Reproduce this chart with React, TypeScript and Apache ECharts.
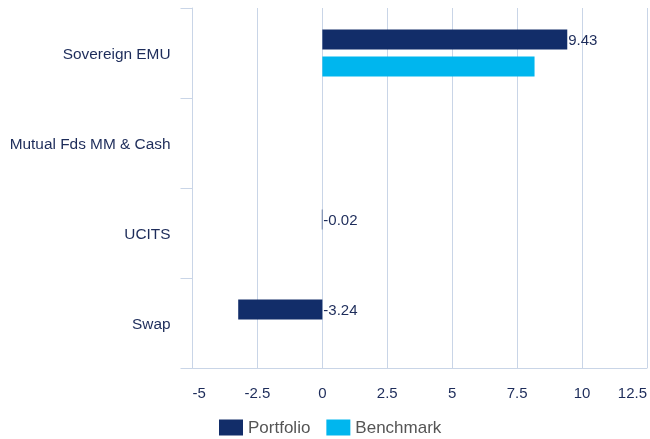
import React, { useEffect, useRef } from "react";
import * as echarts from "echarts";

const categories = ["Sovereign EMU", "Mutual Fds MM & Cash", "UCITS", "Swap"];
const portfolioValues: (number | null)[] = [9.43, null, -0.02, -3.24];
const benchmarkValues: (number | null)[] = [8.17, null, null, null];
const xMin = -5;
const xMax = 12.5;
const xInterval = 2.5;

const NAVY = "#122d69";
const CYAN = "#00b6ee";
const TEXT = "#1d2c5a";
const LINE = "#c9d5e7";
const FONT = "'Liberation Sans', Arial, Helvetica, sans-serif";

export default function App() {
  const ref = useRef<HTMLDivElement>(null);
  useEffect(() => {
    if (!ref.current) return;
    const chart = echarts.init(ref.current, null, { renderer: "svg" });
    chart.setOption({
      animation: false,
      textStyle: { fontFamily: FONT },
      grid: { left: 192.5, right: 2, top: 8, bottom: 71, containLabel: false },
      legend: {
        left: 214,
        top: 414,
        icon: "rect",
        itemWidth: 24,
        itemHeight: 16,
        itemGap: 16,
        textStyle: { color: "#555555", fontSize: 17, fontFamily: FONT },
        data: ["Portfolio", "Benchmark"],
      },
      xAxis: {
        type: "value",
        min: xMin,
        max: xMax,
        interval: xInterval,
        axisLine: { show: true, lineStyle: { color: LINE, width: 1 } },
        axisTick: { show: false },
        splitLine: { show: true, lineStyle: { color: LINE, width: 1 } },
        axisLabel: {
          color: TEXT,
          fontSize: 15,
          fontFamily: FONT,
          margin: 17,
          alignMinLabel: "left",
          alignMaxLabel: "right",
          formatter: (v: number) => String(v),
        },
      },
      yAxis: {
        type: "category",
        inverse: true,
        data: categories,
        axisLine: { show: true, onZero: false, lineStyle: { color: LINE, width: 1 } },
        axisTick: { show: true, length: 12, lineStyle: { color: LINE, width: 1 } },
        axisLabel: { color: TEXT, fontSize: 15.4, fontFamily: FONT, margin: 22 },
        splitLine: { show: false },
      },
      series: [
        {
          name: "Portfolio",
          type: "bar",
          data: portfolioValues,
          barWidth: 20,
          barGap: "35%",
          itemStyle: { color: NAVY },
          label: {
            show: true,
            position: "right",
            distance: 1,
            color: TEXT,
            fontSize: 15,
            fontFamily: FONT,
            formatter: (p: any) => (p.value == null ? "" : String(p.value)),
          },
        },
        {
          name: "Benchmark",
          type: "bar",
          data: benchmarkValues,
          barWidth: 20,
          barGap: "35%",
          itemStyle: { color: CYAN },
          label: { show: false },
        },
      ],
    });
    return () => chart.dispose();
  }, []);
  return (
    <div
      ref={ref}
      style={{ position: "fixed", left: 0, top: 0, width: 650, height: 439 }}
    />
  );
}
